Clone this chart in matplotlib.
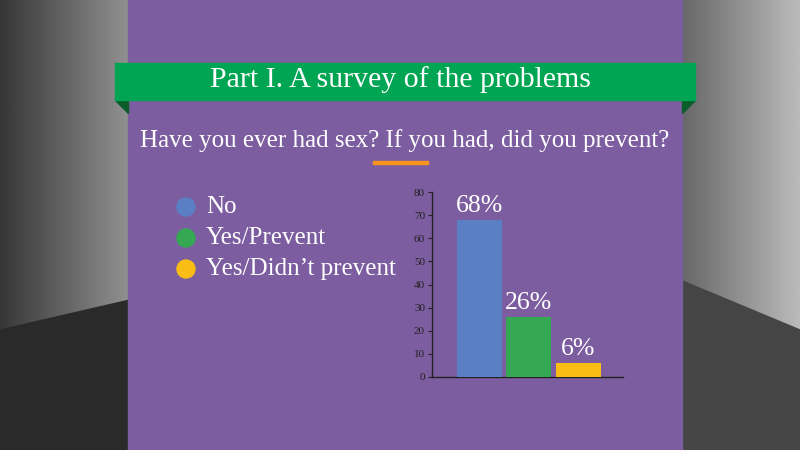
import matplotlib
matplotlib.use("Agg")
import matplotlib.pyplot as plt
from matplotlib.patches import Rectangle, Circle, Polygon
import numpy as np

# ---- data ----
categories = ["No", "Yes/Prevent", "Yes/Didn\u2019t prevent"]
values = [68, 26, 6]
labels = ["68%", "26%", "6%"]
colors = ["#5A7FC4", "#34A852", "#F9BD16"]
yticks = [0, 10, 20, 30, 40, 50, 60, 70, 80]
title = "Part I. A survey of the problems"
question = "Have you ever had sex? If you had, did you prevent?"

W, H = 800, 450
fig = plt.figure(figsize=(8, 4.5), dpi=100)
serif = ["Liberation Serif", "DejaVu Serif"]

# background in pixel coordinates
bg = fig.add_axes([0, 0, 1, 1])
bg.set_xlim(0, W)
bg.set_ylim(H, 0)
bg.axis("off")
grad = np.linspace(0, 1, 256).reshape(1, -1)
bg.imshow(np.tile(grad, (2, 1)), cmap="gray", vmin=-0.6, vmax=2.2,
          extent=[0, 130, H, 0], aspect="auto")
bg.imshow(np.tile(grad, (2, 1)), cmap="gray", vmin=-1.2, vmax=1.8,
          extent=[680, W, H, 0], aspect="auto")
bg.add_patch(Polygon([(0, 330), (130, 300), (130, 450), (0, 450)],
                     closed=True, color="#2a2a2a", zorder=0.5))
bg.add_patch(Polygon([(680, 280), (800, 330), (800, 450), (680, 450)],
                     closed=True, color="#454545", zorder=0.5))
# purple panel
bg.add_patch(Rectangle((128, 0), 554, H, color="#7C5DA0", zorder=1))
# ribbon folds
bg.add_patch(Polygon([(115, 100), (128, 100), (128, 113)], closed=True,
                     color="#0B5E2A", zorder=2))
bg.add_patch(Polygon([(695, 100), (682, 100), (682, 113)], closed=True,
                     color="#0B5E2A", zorder=2))
# green banner
bg.add_patch(Rectangle((115, 63), 580, 37, color="#00A553", zorder=3))
bg.text(400, 80, title, color="white", fontsize=21.5, family=serif,
        ha="center", va="center", zorder=4)
bg.text(405, 141, question, color="white", fontsize=18, family=serif,
        ha="center", va="center", zorder=4)
bg.add_patch(Rectangle((373, 160.5), 55, 3, color="#F7941D", zorder=4))

# legend
for i, (c, col) in enumerate(zip(categories, colors)):
    y = 207 + i * 31
    bg.add_patch(Circle((186, y), 9, color=col, zorder=4))
    bg.text(206, y, c, color="white", fontsize=18, family=serif,
            ha="left", va="center", zorder=4)

# bar chart
ax = fig.add_axes([432 / W, (H - 377) / H, 191 / W, (377 - 192) / H])
ax.patch.set_alpha(0)
x = np.arange(len(values))
ax.bar(x, values, width=0.91, color=colors, zorder=3)
for xi, v, lab in zip(x, values, labels):
    ax.text(xi, v + 1.2, lab, color="white", fontsize=18.5, family=serif,
            ha="center", va="bottom")
ax.set_xlim(-0.96, 2.9)
ax.set_ylim(0, 80)
ax.set_yticks(yticks)
ax.set_xticks([])
ax.tick_params(axis="y", labelsize=8, colors="#222222", length=3, pad=2)
for lab in ax.get_yticklabels():
    lab.set_family(serif)
for s in ["top", "right"]:
    ax.spines[s].set_visible(False)
for s in ["left", "bottom"]:
    ax.spines[s].set_color("#222222")
    ax.spines[s].set_linewidth(1)

fig.savefig("out.png", dpi=100)
